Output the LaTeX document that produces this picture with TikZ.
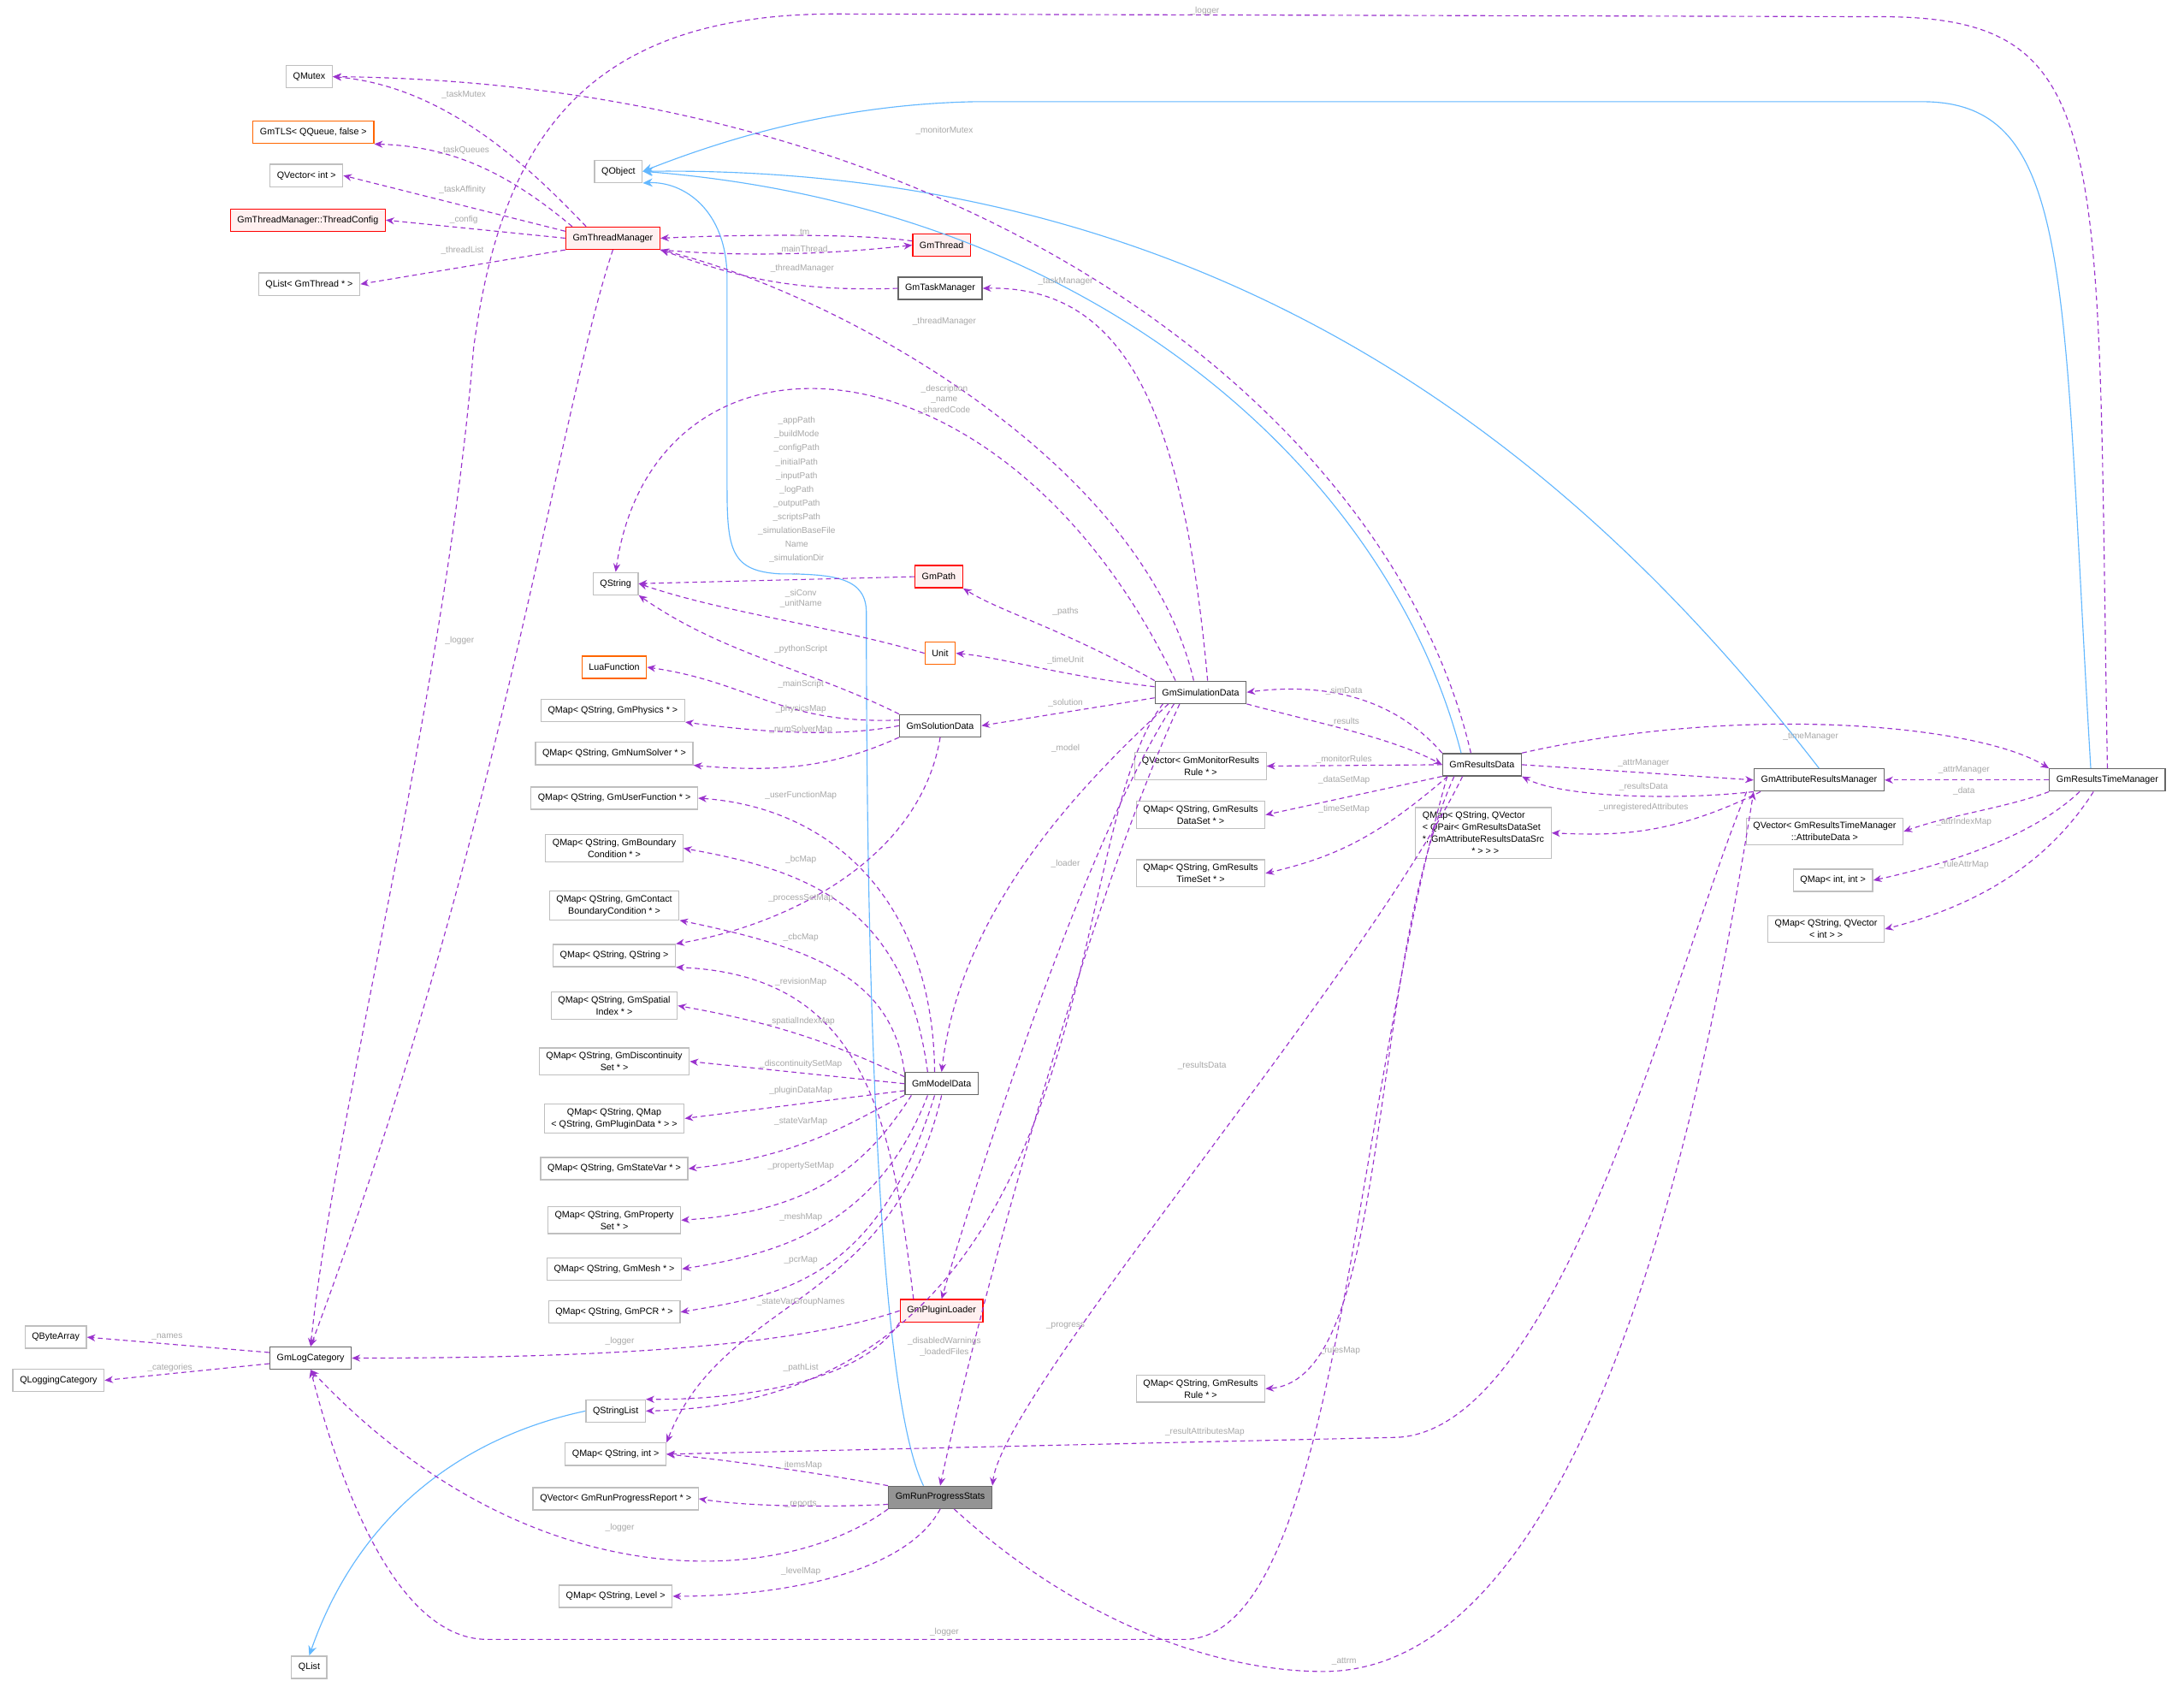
\documentclass[tikz,border=0pt]{standalone}
\usepackage{fontspec}
\setmainfont{Liberation Sans}
\usetikzlibrary{arrows.meta}
\definecolor{mem}{HTML}{9A32CD}
\definecolor{inh}{HTML}{63B8FF}
\definecolor{lblc}{HTML}{A8A8A8}
\tikzset{
 bx/.style={draw=black!25,fill=white,line width=0.8pt,inner xsep=5pt,inner ysep=3pt,font=\fontsize{6.6}{8.5}\selectfont,align=center,minimum height=16pt},
 rb/.style={bx,draw=red,fill=red!6},
 ob/.style={bx,draw=orange!80!red},
 db/.style={bx,draw=black!60},
 mb/.style={bx,draw=black!60,fill=black!42},
 m/.style={draw=mem,dashed,dash pattern=on 3.5pt off 2.5pt,line width=0.7pt,-{Stealth[length=6pt,width=5pt]}},
 ih/.style={draw=inh,line width=0.7pt,-{Stealth[length=7pt,width=6pt]}},
 l/.style={text=lblc,font=\fontsize{6.2}{7.6}\selectfont,align=center,inner sep=1pt}
}
\begin{document}
\begin{tikzpicture}[x=1pt,y=-1pt]
\useasboundingbox[fill=white] (0,0) rectangle (1568,1211);
% nodes
\node[bx] (qmutex) at (222,55) {QMutex};
\node[ob] (tls) at (225,95) {GmTLS< QQueue, false >};
\node[bx] (qvi) at (220,126) {QVector< int >};
\node[rb] (tc) at (221,158) {GmThreadManager::ThreadConfig};
\node[bx] (qlt) at (222,204) {QList< GmThread * >};
\node[bx] (qobj) at (444,123) {QObject};
\node[rb] (tm) at (440,171) {GmThreadManager};
\node[rb] (gth) at (676,176) {GmThread};
\node[db] (tkm) at (675,207) {GmTaskManager};
\node[bx] (qstr) at (442,419) {QString};
\node[rb] (path) at (674,414) {GmPath};
\node[ob] (unit) at (675,469) {Unit};
\node[ob] (lua) at (441,479) {LuaFunction};
\node[bx] (phys) at (440,510) {QMap< QString, GmPhysics * >};
\node[bx] (nums) at (441,541) {QMap< QString, GmNumSolver * >};
\node[bx] (uf) at (441,573) {QMap< QString, GmUserFunction * >};
\node[bx] (bc) at (441,609) {QMap< QString, GmBoundary\\Condition * >};
\node[bx] (cbc) at (441,650) {QMap< QString, GmContact\\BoundaryCondition * >};
\node[bx] (qss) at (441,686) {QMap< QString, QString >};
\node[bx] (spi) at (441,722) {QMap< QString, GmSpatial\\Index * >};
\node[bx] (disc) at (441,762) {QMap< QString, GmDiscontinuity\\Set * >};
\node[bx] (pd) at (441,803) {QMap< QString, QMap\\< QString, GmPluginData * > >};
\node[bx] (sv) at (441,839) {QMap< QString, GmStateVar * >};
\node[bx] (prop) at (441,876) {QMap< QString, GmProperty\\Set * >};
\node[bx] (mesh) at (441,911) {QMap< QString, GmMesh * >};
\node[bx] (pcr) at (441,942) {QMap< QString, GmPCR * >};
\node[db] (sol) at (675,521) {GmSolutionData};
\node[db] (md) at (676,778) {GmModelData};
\node[rb] (pl) at (676,941) {GmPluginLoader};
\node[db] (sd) at (862,497) {GmSimulationData};
\node[db] (rd) at (1064,549) {GmResultsData};
\node[bx] (mr) at (862,550) {QVector< GmMonitorResults\\Rule * >};
\node[bx] (ds) at (862,585) {QMap< QString, GmResults\\DataSet * >};
\node[bx] (ts) at (862,627) {QMap< QString, GmResults\\TimeSet * >};
\node[bx,align=left] (qvp) at (1065,598) {QMap< QString, QVector\\< QPair< GmResultsDataSet\\ *, GmAttributeResultsDataSrc\\ \hphantom{GmAttribute}* > > >};
\node[db] (arm) at (1306,560) {GmAttributeResultsManager};
\node[db] (rtm) at (1513,560) {GmResultsTimeManager};
\node[bx] (ad) at (1310,597) {QVector< GmResultsTimeManager\\::AttributeData >};
\node[bx] (qii) at (1316,632) {QMap< int, int >};
\node[bx] (qvint) at (1311,667) {QMap< QString, QVector\\< int > >};
\node[bx] (rules) at (862,997) {QMap< QString, GmResults\\Rule * >};
\node[bx] (qba) at (40,960) {QByteArray};
\node[bx] (qlc) at (42,991) {QLoggingCategory};
\node[db] (lc) at (223,975) {GmLogCategory};
\node[bx] (qsl) at (442,1013) {QStringList};
\node[bx] (qsi) at (442,1044) {QMap< QString, int >};
\node[bx] (rep) at (442,1076) {QVector< GmRunProgressReport * >};
\node[mb] (rps) at (675,1075) {GmRunProgressStats};
\node[bx] (lvl) at (442,1146) {QMap< QString, Level >};
\node[bx] (qlist) at (222,1197) {QList};
% inheritance
\draw[ih] (rtm.north west) ++(30,0) .. controls (1480,200) and (1490,73) .. (1380,73) -- (700,73) .. controls (600,75) and (520,100) .. (qobj.east);
\draw[ih] (arm.north) .. controls (1150,350) and (900,118) .. (qobj.east);
\draw[ih] (rd.north) ++(-15,0) .. controls (1000,350) and (800,150) .. (qobj.east);
\draw[ih] (rps.north) ++(-12,0) .. controls (630,1000) and (622,700) .. (622,440) .. controls (622,415) and (600,412) .. (560,412) .. controls (525,410) and (522,395) .. (522,350) -- (522,200) .. controls (522,150) and (490,130) .. (qobj.south east);
\draw[ih] (qsl.west) .. controls (340,1030) and (260,1080) .. (qlist.north);
% thread manager
\draw[m] (tm.north west) ++(15,0) .. controls (380,120) and (320,62) .. (qmutex.east);
\draw[m] (tm.north west) ++(5,0) .. controls (360,120) and (320,105) .. (tls.south east);
\draw[m] (tm.west) ++(0,-5) -- (qvi.east);
\draw[m] (tm.west) -- (tc.east);
\draw[m] (tm.south west) -- (qlt.east);
\draw[m] (tm.south) .. controls (400,300) and (360,600) .. (lc.north);
\draw[m] (gth.west) ++(0,-3) .. controls (620,168) and (540,168) .. (tm.east);
\draw[m] (tm.south east) .. controls (540,185) and (600,182) .. (gth.west);
\draw[m] (tkm.west) .. controls (560,210) and (520,195) .. (tm.south east);
% simulation data
\draw[m] (sd.north) ++(-5,0) .. controls (820,330) and (600,210) .. (tm.south east);
\draw[m] (sd.north) ++(5,0) .. controls (850,300) and (810,205) .. (tkm.east);
\draw[m] (sd.north west) ++(15,0) .. controls (720,230) and (470,220) .. (qstr.north);
\draw[m] (sd.north west) .. controls (760,450) and (720,440) .. (path.south east);
\draw[m] (sd.west) ++(0,-4) .. controls (760,485) and (720,472) .. (unit.east);
\draw[m] (sd.west) ++(0,4) -- (sol.east);
\draw[m] (sd.south west) ++(10,0) .. controls (780,560) and (690,650) .. (md.north);
\draw[m] (sd.south west) ++(14,0) .. controls (780,600) and (700,850) .. (pl.north);
\draw[m] (sd.south west) ++(18,0) .. controls (780,650) and (700,950) .. (rps.north);
\draw[m] (sd.south west) ++(6,0) .. controls (760,600) and (800,1005) .. (qsl.east);
\draw[m] (path.west) -- (qstr.east);
\draw[m] (unit.west) .. controls (600,450) and (520,440) .. (qstr.east);
% solution
\draw[m] (sol.north west) .. controls (580,480) and (520,470) .. (qstr.south east);
\draw[m] (sol.west) ++(0,-4) .. controls (560,520) and (540,490) .. (lua.east);
\draw[m] (sol.west) .. controls (600,530) and (540,525) .. (phys.south east);
\draw[m] (sol.south west) .. controls (600,550) and (560,555) .. (nums.south east);
\draw[m] (sol.south) .. controls (660,620) and (560,665) .. (qss.north east);
% model data
\draw[m] (md.north) ++(-5,0) .. controls (670,650) and (600,580) .. (uf.east);
\draw[m] (md.north) ++(-10,0) .. controls (650,650) and (580,625) .. (bc.east);
\draw[m] (md.north west) .. controls (640,700) and (580,680) .. (cbc.south east);
\draw[m] (pl.north west) ++(10,0) .. controls (640,800) and (620,700) .. (qss.south east);
\draw[m] (md.west) ++(0,-5) .. controls (600,750) and (560,735) .. (spi.east);
\draw[m] (md.west) -- (disc.east);
\draw[m] (md.west) ++(0,5) -- (pd.east);
\draw[m] (md.south west) .. controls (620,800) and (580,830) .. (sv.east);
\draw[m] (md.south west) ++(5,0) .. controls (620,840) and (580,870) .. (prop.east);
\draw[m] (md.south) ++(-10,0) .. controls (630,880) and (560,900) .. (mesh.east);
\draw[m] (md.south) ++(-5,0) .. controls (630,920) and (560,930) .. (pcr.east);
\draw[m] (md.south) .. controls (640,940) and (520,930) .. (qsi.north east);
% plugin loader
\draw[m] (pl.west) .. controls (560,970) and (400,975) .. (lc.east);
\draw[m] (pl.south west) .. controls (620,990) and (540,1005) .. (qsl.north east);
% run progress
\draw[m] (rps.north west) .. controls (600,1060) and (540,1050) .. (qsi.east);
\draw[m] (rps.west) ++(0,5) .. controls (600,1082) and (540,1082) .. (rep.east);
\draw[m] (rps.south west) .. controls (560,1140) and (380,1150) .. (lc.south);
\draw[m] (rps.south) .. controls (650,1130) and (560,1146) .. (lvl.east);
\draw[m] (rps.south) ++(10,0) .. controls (780,1170) and (880,1200) .. (950,1200) .. controls (1150,1200) and (1230,750) .. (arm.south west);
% results data
\draw[m] (rd.north west) .. controls (1000,500) and (950,490) .. (sd.east);
\draw[m] (sd.south east) .. controls (950,520) and (1000,530) .. (rd.west);
\draw[m] (rd.west) -- (mr.east);
\draw[m] (rd.south west) -- (ds.east);
\draw[m] (rd.south west) ++(4,0) .. controls (990,600) and (960,615) .. (ts.east);
\draw[m] (rd.north) ++(-8,0) .. controls (1000,300) and (700,60) .. (qmutex.east);
\draw[m] (rd.south) ++(-20,0) .. controls (980,700) and (1000,990) .. (rules.east);
\draw[m] (rd.south) ++(-25,0) .. controls (970,800) and (960,1177) .. (850,1177) -- (350,1177) .. controls (280,1177) and (240,1050) .. (lc.south);
\draw[m] (rd.south) ++(-14,0) .. controls (980,700) and (720,1000) .. (rps.north east);
\draw[m] (rd.east) -- (arm.west);
\draw[m] (arm.south west) .. controls (1200,575) and (1120,572) .. (rd.south east);
\draw[m] (rd.north east) .. controls (1250,505) and (1420,520) .. (rtm.north west);
\draw[m] (arm.south west) ++(5,0) .. controls (1200,600) and (1160,600) .. (qvp.east);
\draw[m] (arm.south west) ++(-5,0) .. controls (1200,700) and (1120,1032) .. (1000,1032) -- (qsi.east);
% results time manager
\draw[m] (rtm.west) -- (arm.east);
\draw[m] (rtm.south west) .. controls (1440,580) and (1400,585) .. (ad.east);
\draw[m] (rtm.south) ++(-20,0) .. controls (1460,600) and (1400,620) .. (qii.east);
\draw[m] (rtm.south) ++(-10,0) .. controls (1470,620) and (1420,650) .. (qvint.east);
\draw[m] (rtm.north) .. controls (1505,100) and (1520,12) .. (1350,12) -- (600,10) .. controls (420,10) and (360,100) .. (340,250) .. controls (320,500) and (240,800) .. (lc.north);
% log category
\draw[m] (lc.west) ++(0,-4) -- (qba.east);
\draw[m] (lc.west) ++(0,4) -- (qlc.east);
% labels
\node[l] at (333,68) {\_taskMutex};
\node[l] at (333,108) {\_taskQueues};
\node[l] at (332,136) {\_taskAffinity};
\node[l] at (333,158) {\_config};
\node[l] at (332,180) {\_threadList};
\node[l] at (330,460) {\_logger};
\node[l] at (576,167) {\_tm};
\node[l] at (576,179) {\_mainThread};
\node[l] at (576,193) {\_threadManager};
\node[l] at (765,202) {\_taskManager};
\node[l] at (678,231) {\_threadManager};
\node[l] at (678,94) {\_monitorMutex};
\node[l] at (678,287) {\_description\\\_name\\\_sharedCode};
\node[l,font=\fontsize{6.2}{9.9}\selectfont] at (572,356) {\_appPath\\\_buildMode\\\_configPath\\\_initialPath\\\_inputPath\\\_logPath\\\_outputPath\\\_scriptsPath\\\_simulationBaseFile\\Name\\\_simulationDir\\...};
\node[l] at (575,430) {\_siConv\\\_unitName};
\node[l] at (765,439) {\_paths};
\node[l] at (575,466) {\_pythonScript};
\node[l] at (765,474) {\_timeUnit};
\node[l] at (575,491) {\_mainScript};
\node[l] at (765,505) {\_solution};
\node[l] at (575,509) {\_physicsMap};
\node[l] at (575,524) {\_numSolverMap};
\node[l] at (575,571) {\_userFunctionMap};
\node[l] at (765,537) {\_model};
\node[l] at (575,617) {\_bcMap};
\node[l] at (765,620) {\_loader};
\node[l] at (575,645) {\_processSetMap};
\node[l] at (575,673) {\_cbcMap};
\node[l] at (575,705) {\_revisionMap};
\node[l] at (575,733) {\_spatialIndexMap};
\node[l] at (575,764) {\_discontinuitySetMap};
\node[l] at (575,783) {\_pluginDataMap};
\node[l] at (575,805) {\_stateVarMap};
\node[l] at (575,837) {\_propertySetMap};
\node[l] at (575,874) {\_meshMap};
\node[l] at (575,905) {\_pcrMap};
\node[l] at (575,935) {\_stateVarGroupNames};
\node[l] at (445,963) {\_logger};
\node[l] at (678,967) {\_disabledWarnings\\\_loadedFiles};
\node[l] at (575,982) {\_pathList};
\node[l] at (765,952) {\_progress};
\node[l] at (863,765) {\_resultsData};
\node[l] at (575,1052) {\_itemsMap};
\node[l] at (575,1080) {\_reports};
\node[l] at (445,1097) {\_logger};
\node[l] at (575,1128) {\_levelMap};
\node[l] at (678,1172) {\_logger};
\node[l] at (965,1193) {\_attrm};
\node[l] at (865,1028) {\_resultAttributesMap};
\node[l] at (962,970) {\_rulesMap};
\node[l] at (120,960) {\_names};
\node[l] at (122,982) {\_categories};
\node[l] at (965,496) {\_simData};
\node[l] at (965,518) {\_results};
\node[l] at (965,545) {\_monitorRules};
\node[l] at (965,560) {\_dataSetMap};
\node[l] at (965,581) {\_timeSetMap};
\node[l] at (1180,548) {\_attrManager};
\node[l] at (1180,565) {\_resultsData};
\node[l] at (1180,580) {\_unregisteredAttributes};
\node[l] at (1300,529) {\_timeManager};
\node[l] at (1410,553) {\_attrManager};
\node[l] at (1410,568) {\_data};
\node[l] at (1410,590) {\_attrIndexMap};
\node[l] at (1410,621) {\_ruleAttrMap};
\node[l] at (865,8) {\_logger};
\end{tikzpicture}
\end{document}
